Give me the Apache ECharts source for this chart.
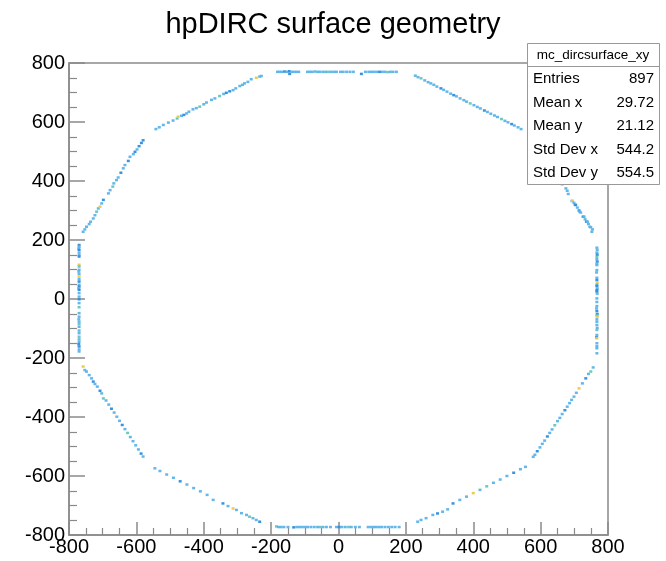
<!DOCTYPE html>
<html>
<head>
<meta charset="utf-8">
<script src="https://cdn.jsdelivr.net/npm/echarts@6/dist/echarts.min.js"></script>
<style>
html,body{margin:0;padding:0;background:#fff;}
#c{width:666px;height:561px;}
</style>
</head>
<body>
<div id="c"></div>
<script>
// ---- data: [x, y, binCount], grouped by polygon side ----
const sideTop = [[-181,770,1],[-175,770,1],[-168,770,1],[-160,771,2],[-153,770,1],[-146,772,2],[-145,763,2],[-139,770,1],[-132,770,1],[-125,770,1],[-118,770,1],[-92,770,1],[-85,770,1],[-78,770,1],[-70,771,1],[-62,770,1],[-55,770,1],[-46,770,1],[-38,770,1],[-30,770,3],[-22,770,1],[-14,770,1],[-6,770,1],[6,770,1],[14,770,1],[24,770,1],[34,770,1],[44,770,1],[68,763,2],[80,770,1],[90,770,1],[98,770,1],[106,770,1],[114,770,1],[122,770,2],[130,770,1],[138,770,1],[146,769,3],[154,770,1],[162,770,1],[172,770,1]];
const sideBottom = [[-184,-771,3],[-178,-773,1],[-170,-773,1],[-162,-773,1],[-150,-773,1],[-133,-774,2],[-124,-773,1],[-116,-773,1],[-108,-773,1],[-100,-773,1],[-92,-773,1],[-82,-773,1],[-72,-773,1],[-62,-773,1],[-54,-773,3],[-46,-773,1],[-36,-773,1],[-24,-773,1],[-6,-773,1],[2,-773,2],[10,-773,1],[20,-773,1],[30,-773,3],[38,-773,1],[50,-773,1],[62,-773,1],[88,-773,1],[96,-773,1],[104,-773,1],[112,-773,1],[120,-773,1],[128,-773,1],[138,-773,1],[148,-773,1],[158,-773,1],[168,-773,1],[180,-773,1]];
const sideRight = [[767,174,1],[768,166,1],[767,157,1],[768,150,2],[767,143,3],[767,135,1],[768,127,2],[767,120,1],[767,115,1],[767,98,1],[766,90,1],[767,72,1],[767,64,2],[768,55,4],[767,48,1],[767,44,2],[768,36,1],[767,30,2],[767,25,2],[768,18,1],[767,2,1],[767,-10,1],[767,-24,1],[766,-32,1],[767,-41,2],[768,-51,2],[767,-56,3],[768,-60,4],[767,-69,1],[767,-77,1],[767,-88,1],[768,-98,1],[767,-105,3],[767,-122,1],[766,-130,2],[767,-133,4],[767,-150,1],[767,-160,1],[767,-167,1],[767,-184,1]];
const sideLeft = [[-770,183,2],[-770,177,1],[-771,171,1],[-770,166,2],[-770,157,1],[-770,149,1],[-770,144,2],[-770,116,4],[-770,110,3],[-770,99,1],[-771,93,1],[-770,85,1],[-770,76,4],[-770,67,1],[-770,59,2],[-770,48,1],[-770,42,2],[-771,36,1],[-770,31,2],[-770,20,1],[-770,8,1],[-770,-1,2],[-770,-14,1],[-770,-28,3],[-770,-48,1],[-770,-60,1],[-771,-69,1],[-770,-77,1],[-770,-85,3],[-770,-94,1],[-770,-107,1],[-770,-116,1],[-770,-128,3],[-770,-137,1],[-770,-145,1],[-771,-153,2],[-770,-161,2],[-770,-171,1],[-770,-178,1]];
const sideUpperLeftSteep = [[-758,228,1],[-753,236,1],[-748,245,1],[-740,254,1],[-736,262,1],[-728,273,1],[-723,284,1],[-718,296,3],[-713,307,1],[-708,313,4],[-703,324,1],[-698,336,2],[-683,358,1],[-678,369,1],[-670,381,3],[-667,392,1],[-659,403,1],[-654,412,1],[-646,428,2],[-639,443,1],[-634,454,1],[-624,468,2],[-619,482,1],[-609,491,1],[-604,499,2],[-598,507,1],[-592,518,2],[-585,529,2],[-580,538,2]];
const sideUpperLeftFlat = [[-542,576,1],[-532,582,1],[-520,590,1],[-505,598,1],[-491,605,1],[-479,612,3],[-476,618,4],[-466,621,1],[-459,624,2],[-451,629,1],[-444,635,1],[-432,643,1],[-422,647,1],[-412,652,3],[-400,660,1],[-392,666,1],[-377,675,1],[-367,680,1],[-353,688,3],[-341,695,1],[-333,699,2],[-323,704,2],[-313,708,1],[-305,714,1],[-293,722,1],[-285,726,1],[-279,731,1],[-269,736,1],[-259,745,1],[-244,750,4],[-234,754,1],[-229,756,1]];
const sideUpperRightFlat = [[228,757,1],[236,752,1],[245,748,3],[256,741,1],[266,735,1],[274,731,1],[283,726,1],[292,720,1],[304,714,2],[312,709,1],[322,703,1],[333,696,1],[342,691,2],[350,687,1],[361,680,1],[372,674,1],[380,669,1],[391,663,3],[402,657,1],[412,651,1],[421,646,1],[433,639,2],[442,634,1],[452,628,1],[463,622,1],[472,617,1],[484,610,3],[494,604,1],[503,599,1],[514,593,2],[522,588,1],[533,582,1],[542,576,1]];
const sideUpperRightSteep = [[583,528,1],[590,516,1],[598,503,1],[606,488,2],[615,473,1],[622,461,1],[630,447,1],[640,430,1],[648,416,1],[656,402,1],[664,389,1],[675,375,1],[679,367,1],[682,356,1],[693,332,1],[694,333,4],[699,326,1],[702,319,1],[704,319,2],[709,310,1],[714,300,2],[716,296,1],[719,293,1],[726,279,2],[729,279,1],[732,270,1],[736,262,2],[739,262,1],[742,254,1],[746,245,1],[749,243,1],[752,228,1],[754,236,1]];
const sideLowerRightSteep = [[756,-232,1],[749,-246,3],[742,-254,1],[734,-269,2],[724,-286,1],[714,-303,4],[706,-318,1],[699,-331,1],[692,-342,1],[686,-353,1],[679,-365,1],[672,-377,2],[664,-390,1],[657,-403,1],[650,-414,1],[642,-428,3],[634,-442,1],[627,-454,1],[620,-466,2],[612,-480,1],[605,-491,1],[598,-503,1],[590,-516,2],[583,-528,1],[578,-535,1]];
const sideLowerRightFlat = [[555,-569,1],[540,-577,1],[520,-589,2],[500,-600,1],[480,-612,1],[460,-623,1],[440,-635,3],[420,-647,1],[400,-658,4],[380,-670,1],[360,-681,1],[340,-693,2],[324,-713,1],[309,-721,1],[294,-727,2],[280,-732,1],[260,-743,1],[245,-749,1],[235,-755,1]];
const sideLowerLeftFlat = [[-545,-574,1],[-530,-583,1],[-510,-595,1],[-490,-606,1],[-470,-618,2],[-450,-629,1],[-430,-641,1],[-410,-652,1],[-390,-664,1],[-372,-681,1],[-343,-693,2],[-328,-702,1],[-313,-710,4],[-303,-715,1],[-288,-726,1],[-273,-732,1],[-264,-738,3],[-254,-743,1],[-244,-749,1],[-234,-755,2]];
const sideLowerLeftSteep = [[-758,-229,4],[-753,-241,1],[-748,-246,1],[-740,-258,1],[-733,-269,1],[-728,-280,2],[-723,-288,1],[-716,-297,1],[-708,-311,2],[-703,-320,1],[-698,-337,3],[-690,-344,1],[-682,-358,1],[-674,-372,2],[-666,-385,1],[-658,-399,1],[-650,-413,1],[-642,-427,2],[-634,-441,1],[-626,-454,3],[-618,-468,1],[-610,-482,1],[-602,-496,1],[-594,-510,1],[-586,-524,2],[-580,-534,1]];

const xTicks = [-800,-600,-400,-200,0,200,400,600,800];
const yTicks = [-800,-600,-400,-200,0,200,400,600,800];
const chartTitle = 'hpDIRC surface geometry';
const statName = 'mc_dircsurface_xy';
const statLabels = ['Entries','Mean x','Mean y','Std Dev x','Std Dev y'];
const statValues = ['897','29.72','21.12','544.2','554.5'];
const countColors = ['#5cb3e9','#2f8ddc','#66c6b4','#e9c94b'];

const allPoints = [].concat(sideTop, sideBottom, sideRight, sideLeft,
  sideUpperLeftSteep, sideUpperLeftFlat, sideUpperRightFlat, sideUpperRightSteep,
  sideLowerRightSteep, sideLowerRightFlat, sideLowerLeftFlat, sideLowerLeftSteep);

const FONT = '"Liberation Sans", Arial, Helvetica, sans-serif';
const AX = '#8a8a8a';

const chart = echarts.init(document.getElementById('c'), null, {renderer:'canvas'});

// stats box (drawn on top of the plot)
const bx = 527, by = 43, bw = 132, bh = 141, hdr = 23, rowH = 23.6;
const Z = 100;
const statEls = [
  {type:'rect', z:Z, shape:{x:bx+0.5,y:by+0.5,width:bw,height:bh}, style:{fill:'#fff',stroke:'#999',lineWidth:1}},
  {type:'line', z:Z+1, shape:{x1:bx,y1:by+hdr+0.5,x2:bx+bw,y2:by+hdr+0.5}, style:{stroke:'#999',lineWidth:1}},
  {type:'text', z:Z+1, x:bx+bw/2, y:by+hdr/2+1, style:{text:statName, font:'13.5px '+FONT, fill:'#000', align:'center', verticalAlign:'middle'}}
];
statLabels.forEach((l,i)=>{
  const yy = by + hdr + rowH*(i+0.5) + 1;
  statEls.push({type:'text', z:Z+1, x:bx+6, y:yy, style:{text:l, font:'15px '+FONT, fill:'#000', align:'left', verticalAlign:'middle'}});
  statEls.push({type:'text', z:Z+1, x:bx+bw-5, y:yy, style:{text:statValues[i], font:'15px '+FONT, fill:'#000', align:'right', verticalAlign:'middle'}});
});

const option = {
  animation:false,
  backgroundColor:'#fff',
  title:{text:chartTitle, left:'center', top:5, textStyle:{fontFamily:FONT, fontSize:29, fontWeight:'normal', color:'#000'}},
  grid:{left:69, right:58, top:63, bottom:26, show:true, borderColor:AX, borderWidth:1.5, backgroundColor:'transparent'},
  xAxis:{
    type:'value', min:xTicks[0], max:xTicks[xTicks.length-1], interval:200,
    axisLine:{show:true, onZero:false, lineStyle:{color:AX, width:1.5}},
    axisTick:{show:true, inside:true, length:13, lineStyle:{color:AX, width:1.5}},
    minorTick:{show:true, splitNumber:4, length:7, lineStyle:{color:AX, width:1.2}},
    splitLine:{show:false},
    axisLabel:{color:'#000', fontFamily:FONT, fontSize:20, margin:2, formatter:v=>String(v)}
  },
  yAxis:{
    type:'value', min:yTicks[0], max:yTicks[yTicks.length-1], interval:200,
    axisLine:{show:true, onZero:false, lineStyle:{color:AX, width:1.5}},
    axisTick:{show:true, inside:true, length:16, lineStyle:{color:AX, width:1.5}},
    minorTick:{show:true, splitNumber:4, length:8, lineStyle:{color:AX, width:1.2}},
    splitLine:{show:false},
    axisLabel:{color:'#000', fontFamily:FONT, fontSize:20, margin:4, formatter:v=>String(v)}
  },
  visualMap:{type:'piecewise', show:false, dimension:2, seriesIndex:0,
    pieces:[{min:0.5,max:1.5,color:countColors[0]},{min:1.5,max:2.5,color:countColors[1]},{min:2.5,max:3.5,color:countColors[2]},{min:3.5,max:10,color:countColors[3]}]},
  series:[{
    type:'scatter', data:allPoints, symbol:'rect', symbolSize:[3,2.5],
    itemStyle:{opacity:0.95}, silent:true, z:2
  }],
  graphic:{elements:[{type:'group', z:Z, children:statEls}]}
};
chart.setOption(option);
</script>
</body>
</html>
